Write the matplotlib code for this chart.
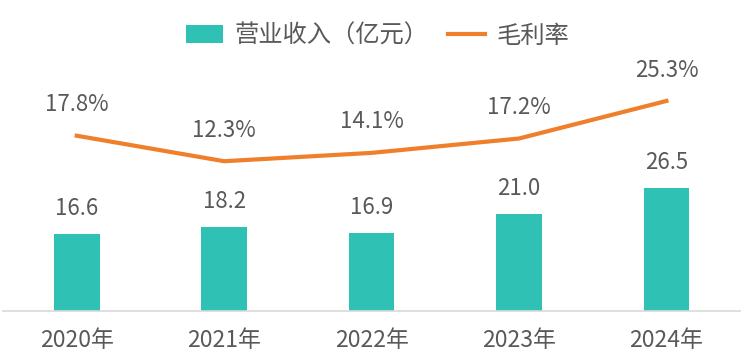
import matplotlib
matplotlib.use("Agg")
import matplotlib.pyplot as plt
from matplotlib.patches import Patch
from matplotlib.lines import Line2D

plt.rcParams['font.family'] = ['Noto Sans CJK SC', 'DejaVu Sans']

years = ["2020年", "2021年", "2022年", "2023年", "2024年"]
revenue = [16.6, 18.2, 16.9, 21.0, 26.5]
margin = [17.8, 12.3, 14.1, 17.2, 25.3]

teal = "#2EC1B4"
orange = "#F07F2B"
txt = "#595959"

fig = plt.figure(figsize=(7.56, 3.55), dpi=100)
ax = fig.add_axes([0.004, 0.124, 0.975, 0.653])
ax2 = ax.twinx()

x = list(range(len(years)))
ax.bar(x, revenue, width=0.31, color=teal, zorder=2)
ax.set_ylim(0, 50)
ax.set_xlim(-0.5, len(years) - 0.5)
for xi, v in zip(x, revenue):
    ax.annotate(f"{v:.1f}", (xi, v), xytext=(0, 10), textcoords="offset points",
                ha="center", va="bottom", fontsize=16, color=txt)

ax2.plot(x, margin, color=orange, lw=3, zorder=3, solid_joinstyle="round")
ax2.set_ylim(-20, 30)
for xi, v in zip(x, margin):
    ax2.annotate(f"{v:.1f}%", (xi, v), xytext=(0, 14), textcoords="offset points",
                 ha="center", va="bottom", fontsize=16, color=txt)

for a in (ax, ax2):
    for s in a.spines.values():
        s.set_visible(False)
    a.set_yticks([])
ax.spines['bottom'].set_visible(True)
ax.spines['bottom'].set_color("#D9D9D9")
ax.spines['bottom'].set_linewidth(1.2)
ax.set_xticks(x)
ax.set_xticklabels(years, fontsize=16.5, color=txt)
ax.tick_params(axis='x', length=0, pad=13)

handles = [Patch(facecolor=teal, edgecolor='none'),
           Line2D([0], [0], color=orange, lw=3)]
fig.legend(handles, ["营业收入（亿元）", "毛利率"], loc="center",
           bbox_to_anchor=(0.5, 0.9), ncol=2, frameon=False,
           fontsize=17.5, labelcolor=txt, handlelength=1.5, handleheight=0.75,
           columnspacing=0.8, handletextpad=0.5)

fig.savefig("out.png", dpi=100)
